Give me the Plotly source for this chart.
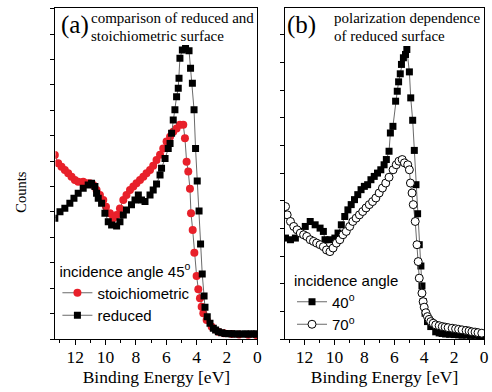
import plotly.graph_objects as go

# Panel (a): incidence angle 45 deg
a_stoich_E = [13.34, 13.12, 12.9, 12.68, 12.46, 12.24, 12.02, 11.8, 11.47, 11.25, 11.03, 10.81, 10.59, 10.37,
              10.15, 9.97, 9.71, 9.49, 9.27, 9.05, 8.83, 8.62, 8.39, 8.17, 7.96, 7.73, 7.51, 7.3, 7.07, 6.86,
              6.64, 6.41, 6.2, 5.98, 5.75, 5.54, 5.32, 5.1, 4.88, 4.77, 4.66, 4.55, 4.44, 4.37, 4.26, 4.15,
              4.0, 3.89, 3.78, 3.67, 3.56, 3.34, 3.01, 2.57, 2.2, 1.69, 1.2, 0.6, 0.07]
a_stoich_I = [7.24, 6.92, 6.78, 6.65, 6.52, 6.39, 6.26, 6.19, 6.19, 6.13, 6.13, 6.06, 5.87, 5.67,
              5.47, 5.21, 4.95, 4.75, 4.88, 5.14, 5.47, 5.67, 5.87, 6.0, 6.13, 6.26, 6.39, 6.52, 6.65, 6.82,
              7.05, 7.25, 7.5, 7.77, 7.96, 8.16, 8.29, 8.43, 8.43, 7.9, 6.98, 6.59, 5.91, 4.95, 4.29, 3.4,
              2.48, 1.96, 1.6, 1.27, 1.01, 0.75, 0.48, 0.29, 0.23, 0.2, 0.18, 0.17, 0.16]

a_red_E = [13.34, 13.0, 12.68, 12.35, 12.08, 11.8, 11.47, 11.14, 10.92, 10.7, 10.59, 10.48, 10.26, 10.04,
           9.82, 9.6, 9.27, 9.05, 8.83, 8.62, 8.29, 8.06, 7.84, 7.63, 7.4, 7.07, 6.86, 6.64, 6.41, 6.31,
           6.08, 5.87, 5.75, 5.65, 5.54, 5.43, 5.32, 5.21, 5.16, 5.1, 4.94, 4.73, 4.5, 4.4, 4.28, 4.17,
           4.07, 3.96, 3.84, 3.74, 3.63, 3.51, 3.45, 3.3, 3.12, 2.9, 2.75, 2.57, 2.35, 2.13, 1.9, 1.7,
           1.5, 1.3, 1.03, 0.8, 0.6, 0.4, 0.2, 0.07]
a_red_I = [4.75, 5.01, 5.15, 5.34, 5.54, 5.74, 5.93, 6.06, 6.13, 6.0, 5.74, 5.54, 5.34, 4.95,
           4.62, 4.49, 4.45, 4.62, 4.88, 5.08, 5.28, 5.47, 5.67, 5.47, 5.41, 5.67, 5.87, 6.1, 6.46, 6.72,
           7.11, 7.5, 7.7, 8.1, 8.62, 9.02, 9.54, 9.87, 10.26, 11.05, 11.38, 11.44, 11.35, 10.66, 10.07, 9.02,
           7.5, 6.22, 5.04, 3.74, 2.56, 1.69, 1.25, 0.88, 0.62, 0.42, 0.35, 0.29, 0.25, 0.22, 0.21, 0.21,
           0.2, 0.2, 0.2, 0.2, 0.2, 0.2, 0.2, 0.2]

# Panel (b): reduced surface, polarization dependence
b_40_E = [13.27, 12.94, 12.61, 12.28, 11.95, 11.62, 11.29, 10.96, 10.74, 10.63, 10.3, 9.97, 9.76, 9.54,
          9.31, 9.1, 8.88, 8.66, 8.44, 8.22, 8.0, 7.78, 7.56, 7.34, 7.12, 6.9, 6.68, 6.53, 6.35, 6.26,
          6.09, 5.91, 5.8, 5.71, 5.6, 5.52, 5.39, 5.25, 5.16, 4.99, 4.9, 4.77, 4.66, 4.55, 4.44, 4.33,
          4.22, 4.15, 4.07, 3.94, 3.78, 3.56, 3.23, 3.0, 2.8, 2.57, 2.3, 2.0, 1.7, 1.47, 1.2, 0.9, 0.6, 0.3, 0.05]
b_40_I = [3.65, 3.59, 3.65, 3.89, 4.07, 4.25, 4.13, 4.01, 3.89, 3.59, 3.59, 3.65, 3.83, 4.13,
          4.43, 4.67, 4.86, 5.04, 5.22, 5.4, 5.52, 5.58, 5.76, 5.88, 6.0, 6.12, 6.3, 6.49, 6.79, 7.45,
          7.69, 8.6, 8.96, 9.3, 9.59, 9.93, 10.17, 10.29, 10.47, 9.66, 8.72, 7.91, 6.82, 5.58, 4.53, 3.41,
          2.64, 1.92, 1.35, 0.93, 0.63, 0.45, 0.26, 0.22, 0.2, 0.18, 0.17, 0.16, 0.15, 0.14, 0.14, 0.13, 0.13, 0.12, 0.12]

b_70_E = [13.27, 13.16, 12.94, 12.72, 12.5, 12.28, 12.06, 11.85, 11.62, 11.4, 11.19, 10.96, 10.74, 10.53,
          10.3, 10.09, 9.87, 9.64, 9.43, 9.21, 8.98, 8.77, 8.55, 8.33, 8.11, 7.89, 7.67, 7.45, 7.23, 7.01,
          6.79, 6.57, 6.35, 6.08, 5.87, 5.69, 5.47, 5.32, 5.1, 4.99, 4.92, 4.81, 4.73, 4.6, 4.48, 4.4,
          4.33, 4.15, 4.07, 4.0, 3.89, 3.78, 3.67, 3.56, 3.4, 3.23, 3.0, 2.79, 2.6, 2.4, 2.13, 1.9, 1.7,
          1.47, 1.2, 1.0, 0.81, 0.6, 0.4, 0.15]
b_70_I = [4.79, 4.49, 4.25, 4.07, 3.95, 3.83, 3.77, 3.71, 3.59, 3.53, 3.47, 3.41, 3.34, 3.22,
          3.16, 3.29, 3.47, 3.59, 3.77, 3.89, 4.07, 4.25, 4.37, 4.49, 4.61, 4.74, 4.86, 4.97, 5.1, 5.28,
          5.46, 5.64, 5.85, 6.12, 6.3, 6.43, 6.49, 6.37, 6.3, 6.12, 5.64, 5.28, 4.86, 4.25, 3.41, 2.8,
          2.2, 1.66, 1.35, 1.15, 0.95, 0.81, 0.71, 0.63, 0.57, 0.51, 0.48, 0.45, 0.43, 0.41, 0.39, 0.37, 0.35,
          0.33, 0.31, 0.29, 0.26, 0.25, 0.23, 0.21]

x_tickvals = [12, 10, 8, 6, 4, 2, 0]
x_ticktext = ["12", "10", "8", "6", "4", "2", "0"]

SERIF = "Liberation Serif, Times New Roman, serif"
SANS = "Liberation Sans, Arial, sans-serif"
LINE = dict(color="#444444", width=0.8)

fig = go.Figure()
fig.add_trace(go.Scatter(x=a_stoich_E, y=a_stoich_I, mode="lines+markers", name="stoichiometric",
                         line=LINE, marker=dict(symbol="circle", size=8, color="#e8202a"),
                         xaxis="x", yaxis="y", legend="legend"))
fig.add_trace(go.Scatter(x=a_red_E, y=a_red_I, mode="lines+markers", name="reduced",
                         line=LINE, marker=dict(symbol="square", size=7, color="black"),
                         xaxis="x", yaxis="y", legend="legend"))
fig.add_trace(go.Scatter(x=b_40_E, y=b_40_I, mode="lines+markers", name="40<sup>o</sup>",
                         line=LINE, marker=dict(symbol="square", size=7, color="black"),
                         xaxis="x2", yaxis="y2", legend="legend2"))
fig.add_trace(go.Scatter(x=b_70_E, y=b_70_I, mode="lines+markers", name="70<sup>o</sup>",
                         line=LINE, marker=dict(symbol="circle", size=8, color="white",
                                                line=dict(color="black", width=1)),
                         xaxis="x2", yaxis="y2", legend="legend2"))

xcommon = dict(range=[13.3, 0], tickvals=x_tickvals, ticktext=x_ticktext, ticks="outside", ticklen=5,
               tickwidth=1, tickcolor="black", showline=True, linecolor="black", linewidth=1.2, mirror=True,
               showgrid=False, zeroline=False, tickfont=dict(family=SERIF, size=17.5, color="black"),
               ticklabelstandoff=-3,
               minor=dict(dtick=1, tick0=0, ticks="outside", ticklen=3, tickcolor="black"),
               title=dict(text="Binding Energy [eV]", font=dict(family=SERIF, size=17.5, color="black"),
                          standoff=0))
ycommon = dict(ticks="outside", ticklen=4, tickwidth=1, tickcolor="black", showticklabels=False,
               showline=True, linecolor="black", linewidth=1.2, mirror=True, showgrid=False,
               zeroline=False, dtick=1, tick0=0)


def label(text, x, y, size, xanchor="left"):
    return dict(text=text, x=x/492, y=1-y/392, xref="paper", yref="paper", showarrow=False,
                xanchor=xanchor, yanchor="middle", align="left",
                font=dict(family=SERIF, size=size, color="black"))


fig.update_layout(
    width=492, height=392, margin=dict(l=0, r=0, t=0, b=0),
    paper_bgcolor="white", plot_bgcolor="white",
    xaxis=dict(domain=[56/492, 260/492], anchor="y", **xcommon),
    xaxis2=dict(domain=[288/492, 489/492], anchor="y2", **xcommon),
    yaxis=dict(domain=[1-339/392, 1-8/392], anchor="x", range=[0, 13.03], **ycommon),
    yaxis2=dict(domain=[1-339/392, 1-8/392], anchor="x2", range=[0, 11.97], **ycommon),
    showlegend=True,
    legend=dict(x=58/492, y=1-257/392, xanchor="left", yanchor="top", bgcolor="rgba(0,0,0,0)",
                font=dict(family=SANS, size=15, color="black"), tracegroupgap=0,
                title=dict(text="incidence angle 45<sup>o</sup>", font=dict(family=SANS, size=15, color="black"))),
    legend2=dict(x=295/492, y=1-266/392, xanchor="left", yanchor="top", bgcolor="rgba(0,0,0,0)",
                 font=dict(family=SANS, size=15, color="black"), tracegroupgap=0,
                 title=dict(text="incidence angle", font=dict(family=SANS, size=15, color="black"))),
    annotations=[
        dict(text="Counts", x=21/492, y=1-192/392, xref="paper", yref="paper", textangle=-90,
             xanchor="center", yanchor="middle",
             showarrow=False, font=dict(family=SERIF, size=14.5, color="black")),
        label("(a)", 76, 25, 25, "center"),
        label("comparison of reduced and", 90, 18, 15),
        label("stoichiometric surface", 90, 36, 15),
        label("(b)", 305, 25, 25, "center"),
        label("polarization dependence", 335, 18, 15),
        label("of reduced surface", 335, 36, 15),
    ],
)

fig.write_html("out.html", config={"displayModeBar": False},
               post_script="document.body.style.margin='0';")
